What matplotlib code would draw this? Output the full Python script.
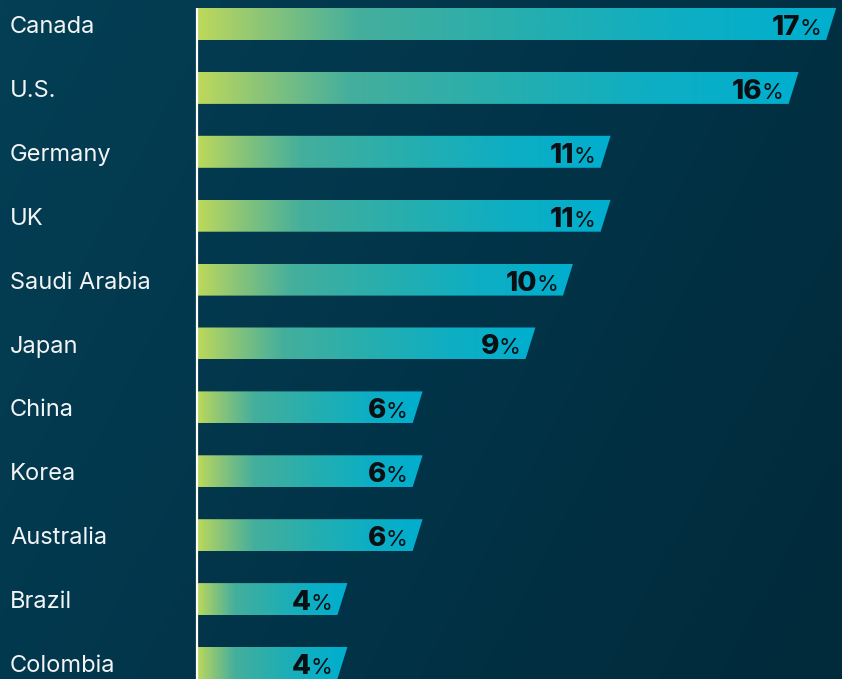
import numpy as np
import matplotlib.pyplot as plt
from matplotlib.colors import LinearSegmentedColormap
from matplotlib.patches import Polygon

# data
countries = ["Canada", "U.S.", "Germany", "UK", "Saudi Arabia", "Japan",
             "China", "Korea", "Australia", "Brazil", "Colombia"]
shares = [17, 16, 11, 11, 10, 9, 6, 6, 6, 4, 4]

# colours
bg_cmap = LinearSegmentedColormap.from_list("bg", ["#043f55", "#023449", "#012a3a"])
bar_cmap = LinearSegmentedColormap.from_list("bar", [
    (0.0, "#bdd95b"), (0.1, "#8cc577"), (0.25, "#45af9c"),
    (0.5, "#27aeae"), (0.75, "#0eaec3"), (1.0, "#00afcf")])

px_per_unit = 37.6      # horizontal pixels per percentage point
row_px = 63.9           # vertical pixels per row
bar_h = 32 / row_px
slant = 10 / px_per_unit

fig = plt.figure(figsize=(8.42, 6.79), dpi=100)
ax = fig.add_axes([0, 0, 1, 1])
x0, x1 = -197 / px_per_unit, (842 - 197) / px_per_unit
y_top, y_bot = -24 / row_px, (679 - 24) / row_px

# background diagonal gradient
gx, gy = np.meshgrid(np.linspace(0, 1, 200), np.linspace(0, 1, 200))
ax.imshow(0.7 * gx + 0.3 * gy, cmap=bg_cmap, extent=(x0, x1, y_bot, y_top),
          aspect="auto", zorder=0, interpolation="bilinear")

# white baseline
ax.plot([0, 0], [-bar_h / 2, y_bot], color="white", lw=1.6, zorder=3,
        solid_capstyle="butt")

fig.canvas.draw()
renderer = fig.canvas.get_renderer()

for i, (name, v) in enumerate(zip(countries, shares)):
    top, bot = i - bar_h / 2, i + bar_h / 2
    poly = Polygon([(0, top), (v, top), (v - slant, bot), (0, bot)],
                   closed=True, facecolor="none", edgecolor="none")
    ax.add_patch(poly)
    im = ax.imshow(np.linspace(0, 1, 256)[None, :], cmap=bar_cmap,
                   extent=(0, v, bot, top), aspect="auto", zorder=2,
                   interpolation="bilinear")
    im.set_clip_path(poly)

    ax.text(x0 + 10 / px_per_unit, i + 9 / row_px, name, ha="left",
            va="baseline", color="#f2f4f5", fontsize=17, family="Inter")

    x_end = v - slant - 5 / px_per_unit
    yb = i + 11 / row_px
    pct = ax.text(x_end, yb, "%", ha="right", va="baseline", color="#0a0f14",
                  fontsize=16, family="Inter", zorder=4)
    w_pt = pct.get_window_extent(renderer).width * 72 / fig.dpi
    ax.annotate(str(v), xy=(x_end, yb), xycoords="data",
                xytext=(-w_pt + 0.5, 0), textcoords="offset points",
                ha="right", va="baseline", color="#0a0f14", fontsize=20,
                family="Inter", fontweight="heavy", zorder=4)

ax.set_xlim(x0, x1)
ax.set_ylim(y_bot, y_top)
ax.axis("off")

fig.savefig("out.png", dpi=100)
